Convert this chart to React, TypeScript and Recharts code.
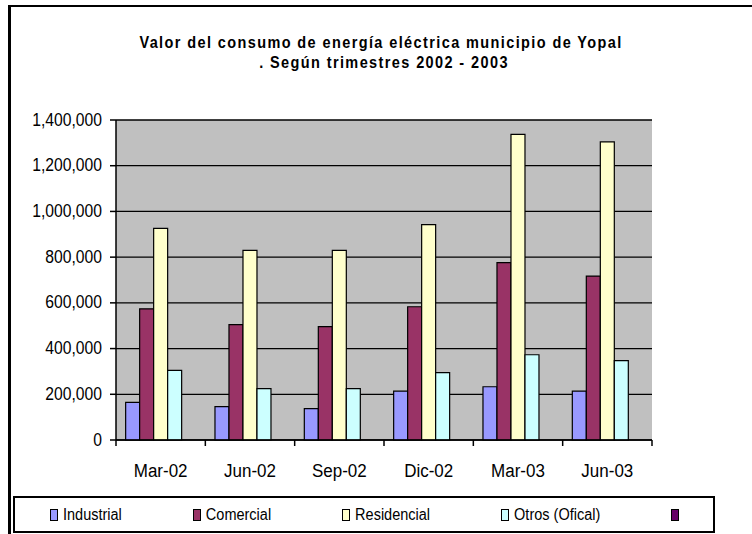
import React from 'react';
import { BarChart, Bar, XAxis, YAxis, CartesianGrid, Legend } from 'recharts';

const categories = ['Mar-02', 'Jun-02', 'Sep-02', 'Dic-02', 'Mar-03', 'Jun-03'];
const industrial = [165000, 146000, 137000, 214000, 233000, 214000];
const comercial = [574000, 505000, 496000, 583000, 776000, 717000];
const residencial = [926000, 830000, 830000, 942000, 1337000, 1304000];
const otros = [305000, 225000, 225000, 295000, 373000, 347000];
const extra = [0, 0, 0, 0, 0, 0];
const yTicks = [0, 200000, 400000, 600000, 800000, 1000000, 1200000, 1400000];
const titleLines = ['Valor del consumo de energía eléctrica municipio de Yopal', '. Según trimestres 2002 - 2003'];

const seriesNames = ['Industrial', 'Comercial', 'Residencial', 'Otros (Ofical)', ''];
const seriesKeys = ['industrial', 'comercial', 'residencial', 'otros', 'extra'];
const seriesColors = ['#9999FF', '#993366', '#FFFFCC', '#CCFFFF', '#660066'];

const data = categories.map((name, i) => ({
  name,
  industrial: industrial[i],
  comercial: comercial[i],
  residencial: residencial[i],
  otros: otros[i],
  extra: extra[i],
}));

const FONT = "'Liberation Sans', Arial, sans-serif";
const SY = 1.12;

const fmt = (v: number) => v.toLocaleString('en-US');

const YTick = (props: any) => {
  const { x, y, payload } = props;
  return (
    <g transform={`translate(${x},${y + 5.5}) scale(1,${SY})`}>
      <text x={0} y={0} textAnchor="end" fontSize={15.7} fill="#000" fontFamily={FONT}>
        {fmt(payload.value)}
      </text>
    </g>
  );
};

const XTick = (props: any) => {
  const { x, y, payload, index, visibleTicksCount } = props;
  const count = visibleTicksCount || categories.length;
  const w = typeof props.width === 'number' && props.width > 0 ? props.width : 536;
  const band = w / count;
  const isLast = index === count - 1;
  return (
    <g>
      <line x1={x - band / 2} x2={x - band / 2} y1={y} y2={y + 6} stroke="#000" strokeWidth={1.5} />
      {isLast && <line x1={x + band / 2} x2={x + band / 2} y1={y} y2={y + 6} stroke="#000" strokeWidth={1.5} />}
      <g transform={`translate(${x},${y + 36.5}) scale(1,${SY})`}>
        <text x={0} y={0} textAnchor="middle" fontSize={17} fill="#000" fontFamily={FONT}>
          {payload.value}
        </text>
      </g>
    </g>
  );
};

const LegendBox = () => (
  <div
    style={{
      width: 702,
      height: 37,
      boxSizing: 'border-box',
      border: '2px solid #000',
      background: '#fff',
      display: 'flex',
      alignItems: 'flex-start',
      paddingLeft: 35,
      paddingTop: 11,
      fontFamily: FONT,
    }}
  >
    {seriesNames.map((n, i) => (
      <div key={i} style={{ display: 'flex', alignItems: 'flex-start', marginRight: 71 }}>
        <span
          style={{
            display: 'inline-block',
            width: 8,
            height: 12,
            boxSizing: 'border-box',
            border: '1.5px solid #000',
            background: seriesColors[i],
          }}
        />
        {n && (
          <span
            style={{
              display: 'inline-block',
              marginLeft: 5,
              fontSize: 14.5,
              lineHeight: '12px',
              color: '#000',
              whiteSpace: 'nowrap',
              transform: `scaleY(${SY})`,
              transformOrigin: '0 11px',
            }}
          >
            {n}
          </span>
        )}
      </div>
    ))}
  </div>
);

export default function App() {
  return (
    <div
      style={{
        position: 'absolute',
        left: 0,
        top: 0,
        width: 752,
        height: 534,
        overflow: 'hidden',
        background: '#fff',
        fontFamily: FONT,
      }}
    >
      <div
        style={{
          position: 'absolute',
          left: 8,
          top: 5,
          width: 900,
          height: 900,
          borderTop: '2px solid #000',
          borderLeft: '3px solid #000',
        }}
      />
      <svg width={752} height={534} style={{ position: 'absolute', left: 0, top: 0 }}>
        {titleLines.map((t, i) => (
          <g key={i} transform={`translate(${i === 0 ? 381 : 384},${i === 0 ? 48 : 67.5}) scale(1,${SY})`}>
            <text x={0} y={0} textAnchor="middle" fontSize={14.5} fontWeight="bold" letterSpacing={1.4} fill="#000" fontFamily={FONT}>
              {t}
            </text>
          </g>
        ))}
      </svg>
      <div style={{ position: 'absolute', left: 0, top: 0 }}>
        <BarChart
          width={752}
          height={534}
          data={data}
          margin={{ top: 120, right: 100, bottom: 17, left: 0 }}
          barCategoryGap="10.8%"
          barGap={0}
        >
          <CartesianGrid vertical={false} stroke="#000" strokeWidth={1.3} fill="#C0C0C0" fillOpacity={1} />
          <XAxis
            dataKey="name"
            tick={<XTick />}
            tickLine={false}
            tickSize={0}
            tickMargin={0}
            height={40}
            interval={0}
            axisLine={{ stroke: '#000', strokeWidth: 1.5 }}
          />
          <XAxis
            xAxisId="top"
            orientation="top"
            dataKey="name"
            tick={false}
            tickLine={false}
            height={0}
            axisLine={{ stroke: '#808080', strokeWidth: 2 }}
          />
          <YAxis
            width={116}
            domain={[0, 1400000]}
            ticks={yTicks}
            tick={<YTick />}
            tickSize={6}
            tickMargin={8}
            interval={0}
            tickLine={{ stroke: '#000', strokeWidth: 1.5 }}
            axisLine={{ stroke: '#000', strokeWidth: 1.5 }}
          />
          <YAxis
            yAxisId="right"
            orientation="right"
            width={0}
            domain={[0, 1400000]}
            tick={false}
            tickLine={false}
            axisLine={{ stroke: '#808080', strokeWidth: 2 }}
          />
          <Legend
            content={<LegendBox />}
            verticalAlign="bottom"
            wrapperStyle={{ left: 13, top: 496, bottom: 'auto', width: 702, height: 37 }}
          />
          {seriesKeys.map((k, i) => (
            <Bar
              key={k}
              dataKey={k}
              name={seriesNames[i] || ' '}
              fill={seriesColors[i]}
              stroke="#000"
              strokeWidth={1.2}
              isAnimationActive={false}
            />
          ))}
        </BarChart>
      </div>
    </div>
  );
}
